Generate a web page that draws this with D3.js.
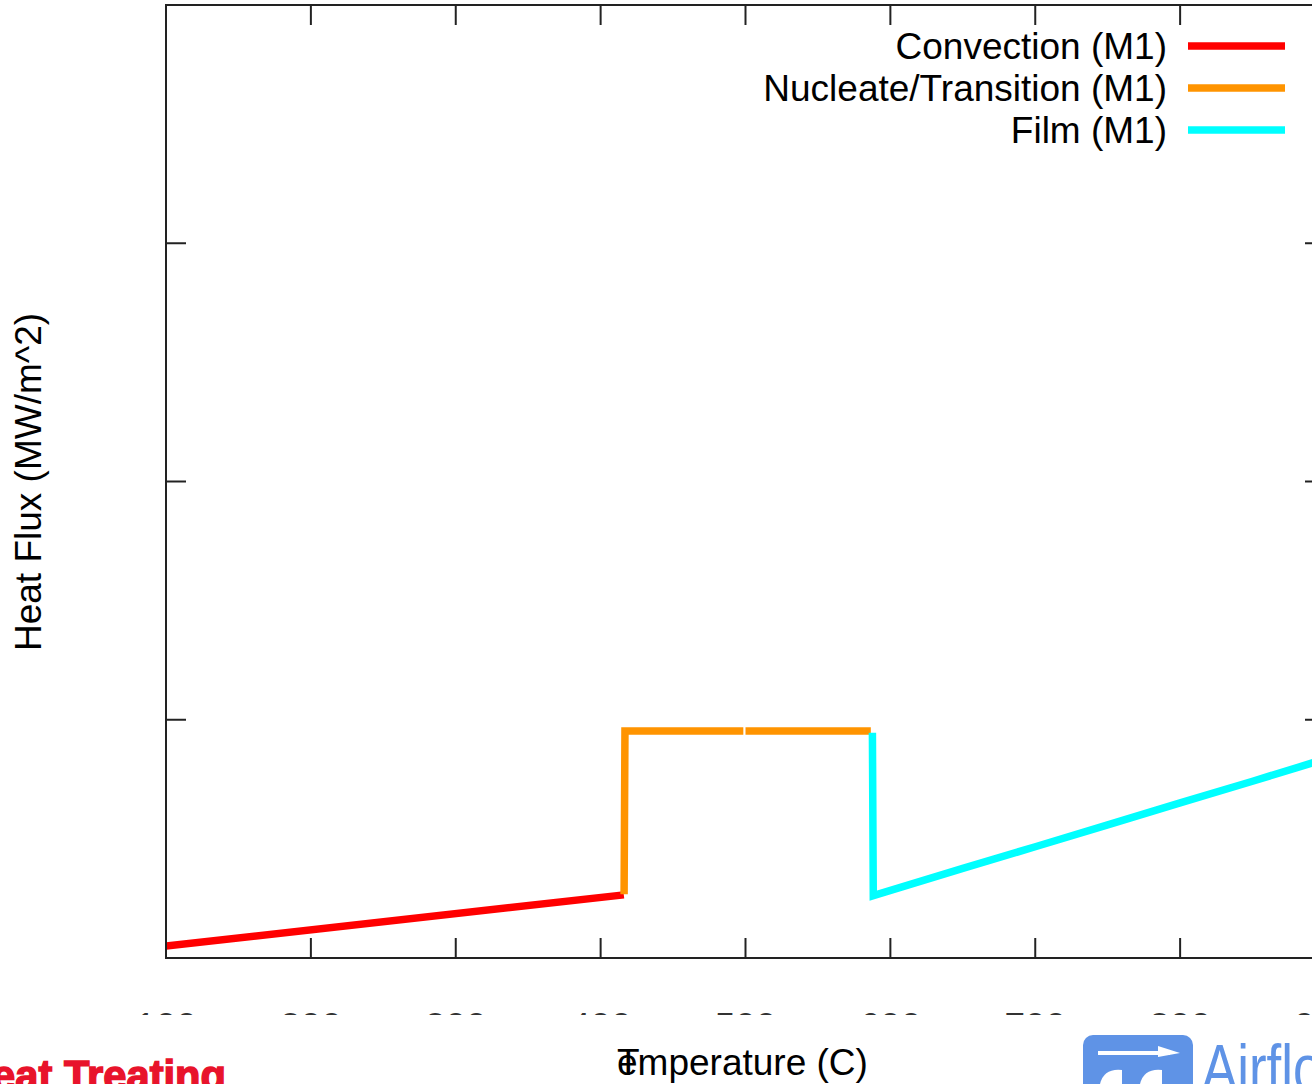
<!DOCTYPE html>
<html>
<head>
<meta charset="utf-8">
<script src="https://cdn.jsdelivr.net/npm/d3@7"></script>
<style>
  html, body { margin: 0; padding: 0; background: #fff; overflow: hidden; }
  svg { display: block; }
  text { font-family: "Liberation Sans", Arial, Helvetica, sans-serif; }
</style>
</head>
<body>
<svg id="chart" width="1312" height="1084"></svg>
<script>
// ---- data (temperature in C, heat flux in MW/m^2) ----
const xTicks = [100, 200, 300, 400, 500, 600, 700, 800, 900];
const xTickLabels = ["100", "200", "300", "400", "500", "600", "700", "800", "900"];
const yTicks = [0, 1, 2, 3, 4];

const convectionT = [100, 416];
const convectionQ = [0.050, 0.265];

const nucleateT = [416.2, 416.8, 498.5];
const nucleateQ = [0.268, 0.953, 0.953];

const transitionT = [500, 586.5];
const transitionQ = [0.953, 0.953];

const filmT = [587.6, 588.2, 650, 700, 750, 800, 850, 900];
const filmQ = [0.945, 0.262, 0.376, 0.467, 0.559, 0.651, 0.742, 0.835];

const seriesNames = ["Convection (M1)", "Nucleate/Transition (M1)", "Film (M1)"];
const seriesColors = ["#ff0000", "#ff9400", "#00ffff"];

// ---- layout ----
const svg = d3.select("#chart");
const x = d3.scaleLinear().domain([100, 900]).range([166, 1325]);
const y = d3.scaleLinear().domain([0, 4]).range([958, 5]);
const tickLen = 20;
const fs = 37;

const defs = svg.append("defs");
defs.append("clipPath").attr("id", "plotclip")
  .append("rect").attr("x", x(100)).attr("y", y(4)).attr("width", x(900) - x(100)).attr("height", y(0) - y(4));
defs.append("clipPath").attr("id", "labelclip")
  .append("rect").attr("x", 0).attr("y", 0).attr("width", 1312).attr("height", 1015);

// ---- ticks (inward, mirrored) ----
const tickG = svg.append("g").attr("stroke", "#222").attr("stroke-width", 2);
xTicks.forEach(t => {
  tickG.append("line").attr("x1", x(t)).attr("x2", x(t)).attr("y1", y(0)).attr("y2", y(0) - tickLen);
  tickG.append("line").attr("x1", x(t)).attr("x2", x(t)).attr("y1", y(4)).attr("y2", y(4) + tickLen);
});
yTicks.forEach(t => {
  tickG.append("line").attr("x1", x(100)).attr("x2", x(100) + tickLen).attr("y1", y(t)).attr("y2", y(t));
  tickG.append("line").attr("x1", x(900)).attr("x2", x(900) - tickLen).attr("y1", y(t)).attr("y2", y(t));
});

// ---- x tick labels (masked in the original: only the tops show) ----
const lblG = svg.append("g").attr("clip-path", "url(#labelclip)");
xTicks.forEach((t, i) => {
  lblG.append("text").attr("x", x(t)).attr("y", 1039)
    .attr("text-anchor", "middle").attr("font-size", fs).attr("fill", "#333")
    .text(xTickLabels[i]);
});

// ---- series ----
const line = d3.line().x(d => x(d[0])).y(d => y(d[1]));
const zip = (a, b) => a.map((v, i) => [v, b[i]]);
const plotG = svg.append("g").attr("clip-path", "url(#plotclip)");
const drawSeries = (T, Q, color) => {
  plotG.append("path").datum(zip(T, Q)).attr("d", line)
    .attr("fill", "none").attr("stroke", color).attr("stroke-width", 7.5)
    .attr("stroke-linejoin", "miter").attr("stroke-linecap", "butt");
};
drawSeries(convectionT, convectionQ, seriesColors[0]);
drawSeries(nucleateT, nucleateQ, seriesColors[1]);
drawSeries(transitionT, transitionQ, seriesColors[1]);
drawSeries(filmT, filmQ, seriesColors[2]);

// ---- border ----
svg.append("rect").attr("x", x(100)).attr("y", y(4))
  .attr("width", x(900) - x(100)).attr("height", y(0) - y(4))
  .attr("fill", "none").attr("stroke", "#222").attr("stroke-width", 2);

// ---- legend ----
const legG = svg.append("g");
seriesNames.forEach((name, i) => {
  const ly = 46 + i * 42;
  legG.append("text").attr("x", 1167).attr("y", ly + 13)
    .attr("text-anchor", "end").attr("font-size", fs).attr("fill", "#000").text(name);
  legG.append("line").attr("x1", 1188).attr("x2", 1285).attr("y1", ly).attr("y2", ly)
    .attr("stroke", seriesColors[i]).attr("stroke-width", 7.5);
});

// ---- axis titles ----
const xt = svg.append("text").attr("y", 1075).attr("font-size", fs).attr("fill", "#000");
xt.append("tspan").attr("x", 617).text("T");
xt.append("tspan").attr("x", 617).text("emperature (C)");

svg.append("text").attr("transform", "translate(41,482) rotate(-90)")
  .attr("text-anchor", "middle").attr("font-size", fs).attr("fill", "#000")
  .text("Heat Flux (MW/m^2)");

// ---- logos (cropped at the bottom edge) ----
svg.append("text").attr("x", -38).attr("y", 1090)
  .attr("font-size", 42).attr("font-weight", "bold")
  .attr("textLength", 264).attr("lengthAdjust", "spacingAndGlyphs")
  .attr("fill", "#e8132b").attr("stroke", "#e8132b").attr("stroke-width", 1.5)
  .text("Heat Treating");

svg.append("rect").attr("x", 1083).attr("y", 1035).attr("width", 110).attr("height", 80)
  .attr("rx", 10).attr("fill", "#5f93e6");
svg.append("line").attr("x1", 1098).attr("x2", 1170).attr("y1", 1053).attr("y2", 1053)
  .attr("stroke", "#fff").attr("stroke-width", 4);
svg.append("path").attr("d", "M1158,1046 L1180,1053 L1158,1057 Z").attr("fill", "#fff");
svg.append("path").attr("d", "M1100,1084 Q1104,1068 1122,1070 L1122,1084 Z").attr("fill", "#fff");
svg.append("path").attr("d", "M1140,1084 Q1144,1068 1162,1070 L1162,1084 Z").attr("fill", "#fff");
svg.append("text").attr("transform", "translate(1202,1091) scale(0.8,1)")
  .attr("font-size", 66).attr("fill", "#5f93e6").text("Airflow Sciences");
</script>
</body>
</html>
